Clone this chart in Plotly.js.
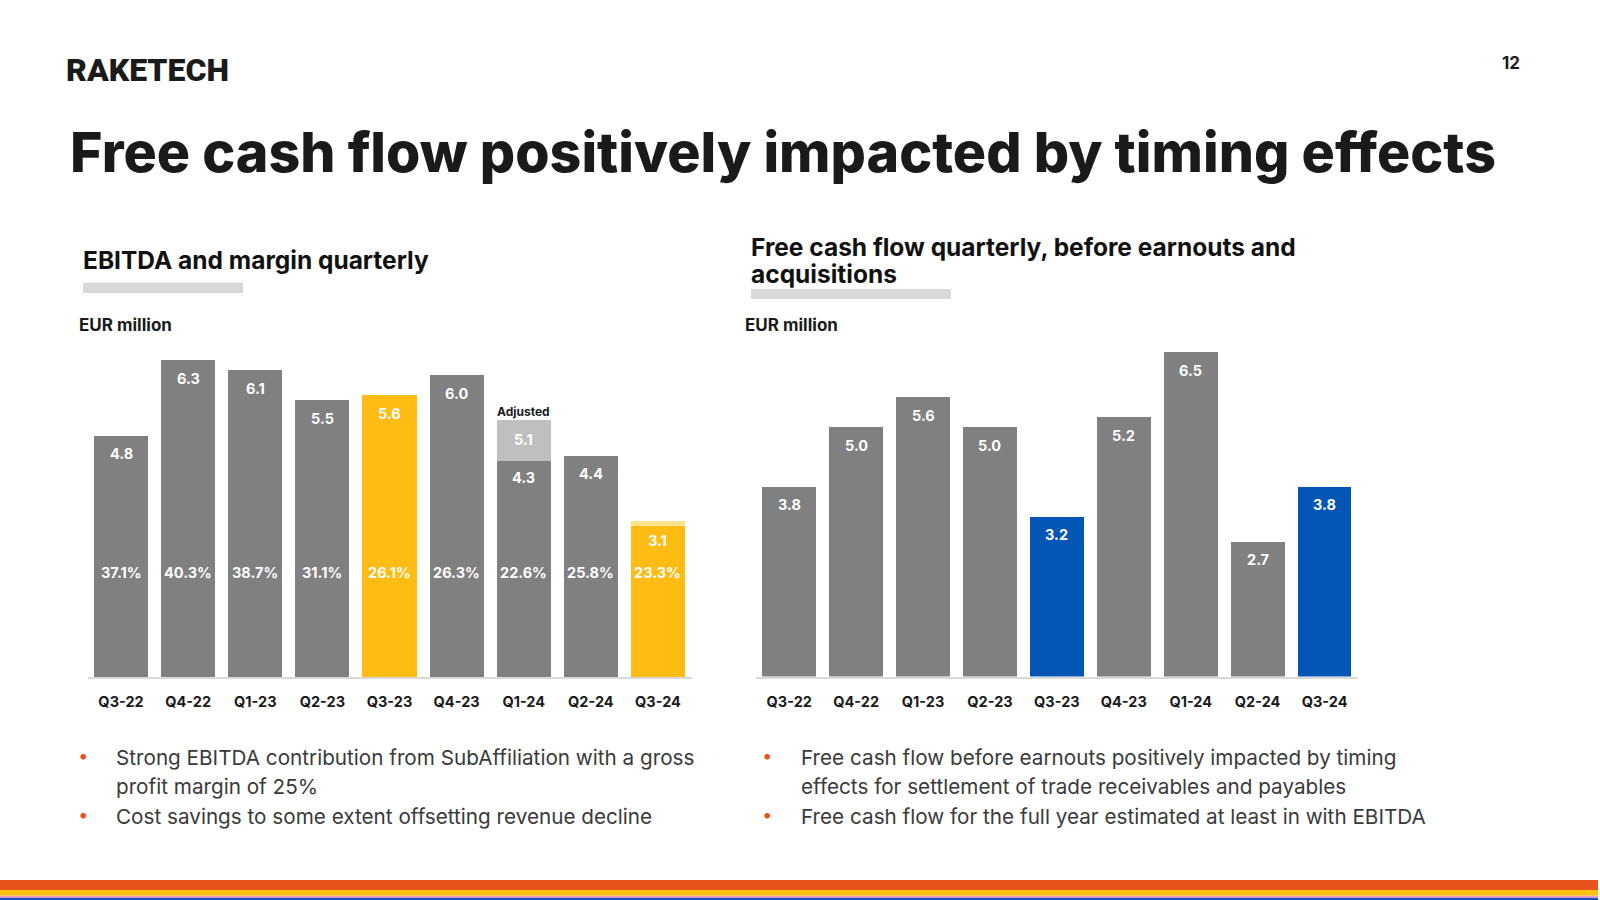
<!DOCTYPE html>
<html>
<head>
<meta charset="utf-8">
<script src="https://cdn.plot.ly/plotly-3.0.1.min.js"></script>
<style>html,body{margin:0;padding:0;background:#fff;}#chart{width:1600px;height:900px;}</style>
</head>
<body>
<div id="chart"></div>
<script>
// ---- data ----
const categories = ['Q3-22','Q4-22','Q1-23','Q2-23','Q3-23','Q4-23','Q1-24','Q2-24','Q3-24'];
const ebitda = [4.8, 6.3, 6.1, 5.5, 5.6, 6.0, 4.3, 4.4, 3.0];
const ebitdaAdjusted = [null, null, null, null, null, null, 5.1, null, 3.1];
const ebitdaMargin = [37.1, 40.3, 38.7, 31.1, 26.1, 26.3, 22.6, 25.8, 23.3];
const freeCashFlow = [3.8, 5.0, 5.6, 5.0, 3.2, 5.2, 6.5, 2.7, 3.8];
const highlighted = ['Q3-23', 'Q3-24'];

const pageTitle = 'Free cash flow positively impacted by timing effects';
const leftTitle = 'EBITDA and margin quarterly';
const rightTitleLines = ['Free cash flow quarterly, before earnouts and', 'acquisitions'];
const unitLabel = 'EUR million';
const leftBullets = [['Strong EBITDA contribution from SubAffiliation with a gross', 'profit margin of 25%'], ['Cost savings to some extent offsetting revenue decline']];
const rightBullets = [['Free cash flow before earnouts positively impacted by timing', 'effects for settlement of trade receivables and payables'], ['Free cash flow for the full year estimated at least in with EBITDA']];

// ---- style ----
const GRAY = '#808080', YELLOW = '#FFBC14', LYELLOW = '#FFE38F', LGRAY = '#BFBFBF', BLUE = '#0356B5';
const FONT = 'Inter, "Open Sans", sans-serif';
const W = 1600, H = 900;
const px = v => v / W;
const py = v => 1 - v / H;

const isHi = categories.map(c => highlighted.includes(c));
const adjPart = ebitda.map((b, i) => ebitdaAdjusted[i] == null ? 0 : Math.round((ebitdaAdjusted[i] - b) * 10) / 10);

const traces = [
  { type: 'bar', x: categories, y: ebitda, xaxis: 'x', yaxis: 'y',
    marker: { color: isHi.map(h => h ? YELLOW : GRAY) }, hoverinfo: 'x+y' },
  { type: 'bar', x: categories, y: adjPart, xaxis: 'x', yaxis: 'y',
    marker: { color: isHi.map(h => h ? LYELLOW : LGRAY) }, hoverinfo: 'x+y' },
  { type: 'bar', x: categories, y: freeCashFlow, xaxis: 'x2', yaxis: 'y2',
    marker: { color: isHi.map(h => h ? BLUE : GRAY) }, hoverinfo: 'x+y' }
];

const ann = [];
const white = { family: FONT, size: 14.5, color: '#ffffff', weight: 700 };
categories.forEach((c, i) => {
  const adj = ebitdaAdjusted[i];
  if (adj != null) {
    ann.push({ xref: 'x', yref: 'y', x: c, y: adj, yshift: -19, text: adj.toFixed(1), showarrow: false, font: white, yanchor: 'middle' });
    if (adj - ebitda[i] >= 0.5) {
      ann.push({ xref: 'x', yref: 'y', x: c, y: ebitda[i], yshift: -17, text: ebitda[i].toFixed(1), showarrow: false, font: white, yanchor: 'middle' });
      ann.push({ xref: 'x', yref: 'y', x: c, y: adj, yshift: 9, text: 'Adjusted', showarrow: false,
        font: { family: FONT, size: 12, color: '#1a1a1a', weight: 700 }, yanchor: 'middle' });
    }
  } else {
    ann.push({ xref: 'x', yref: 'y', x: c, y: ebitda[i], yshift: -18, text: ebitda[i].toFixed(1), showarrow: false, font: white, yanchor: 'middle' });
  }
  ann.push({ xref: 'x', yref: 'y', x: c, y: 2.08, text: ebitdaMargin[i].toFixed(1) + '%', showarrow: false, font: white, yanchor: 'middle' });
  ann.push({ xref: 'x2', yref: 'y2', x: c, y: freeCashFlow[i], yshift: -18, text: freeCashFlow[i].toFixed(1), showarrow: false, font: white, yanchor: 'middle' });
});

function textAt(x, y, text, font, anchor) {
  ann.push({ xref: 'paper', yref: 'paper', x: px(x), y: py(y), text: text, showarrow: false,
    xanchor: anchor || 'left', yanchor: 'middle', font: font });
}
textAt(64, 70, 'RAKETECH', { family: 'Roboto, sans-serif', size: 32, color: '#1a1a1a', weight: 900 });
textAt(1511, 63, '12', { family: FONT, size: 17, color: '#1a1a1a', weight: 700 }, 'center');
textAt(68, 151, pageTitle, { family: FONT, size: 55.5, color: '#1a1a1a', weight: 800 });
textAt(81, 260, leftTitle, { family: FONT, size: 24.5, color: '#111111', weight: 700 });
textAt(749, 247, rightTitleLines[0], { family: FONT, size: 24.5, color: '#111111', weight: 700 });
textAt(749, 274.5, rightTitleLines[1], { family: FONT, size: 24.5, color: '#111111', weight: 700 });
textAt(77, 325, unitLabel, { family: FONT, size: 17, color: '#1a1a1a', weight: 700 });
textAt(743, 325, unitLabel, { family: FONT, size: 17, color: '#1a1a1a', weight: 700 });

const bulletFont = { family: FONT, size: 20.7, color: '#3a3a3a', weight: 400 };
const dotFont = { family: FONT, size: 18, color: '#E8521C', weight: 700 };
const lineYs = [757, 786, 816];
function bullets(list, dotX, textX) {
  let k = 0;
  list.forEach(lines => {
    textAt(dotX, lineYs[k] - 2, '•', dotFont, 'center');
    lines.forEach(l => { textAt(textX, lineYs[k], l, bulletFont); k++; });
  });
}
bullets(leftBullets, 83, 114);
bullets(rightBullets, 767, 799);

const shapes = [
  { type: 'rect', xref: 'paper', yref: 'paper', x0: px(83), x1: px(243), y0: py(293), y1: py(282.5), fillcolor: '#D9D9D9', line: { width: 0 } },
  { type: 'rect', xref: 'paper', yref: 'paper', x0: px(751), x1: px(951), y0: py(299), y1: py(289), fillcolor: '#D9D9D9', line: { width: 0 } },
  { type: 'rect', xref: 'paper', yref: 'paper', x0: 0, x1: px(1598), y0: py(890), y1: py(880), fillcolor: '#E8521B', line: { width: 0 } },
  { type: 'rect', xref: 'paper', yref: 'paper', x0: 0, x1: px(1598), y0: py(895.7), y1: py(890), fillcolor: '#FFC20E', line: { width: 0 } },
  { type: 'rect', xref: 'paper', yref: 'paper', x0: 0, x1: px(1598), y0: py(897.8), y1: py(895.7), fillcolor: '#F49AC1', line: { width: 0 } },
  { type: 'rect', xref: 'paper', yref: 'paper', x0: 0, x1: px(1598), y0: 0, y1: py(897.8), fillcolor: '#1E4FBF', line: { width: 0 } }
];

const xax = (dom) => ({ domain: dom, range: [-0.5, 8.5], showline: true, linecolor: '#D9D9D9', linewidth: 2,
  showgrid: false, zeroline: false, ticks: '', ticklabelstandoff: 11, fixedrange: true,
  tickfont: { family: FONT, size: 14.5, color: '#1a1a1a', weight: 700 } });
const yax = (dom) => ({ domain: dom, range: [0, 7], visible: false, showgrid: false, zeroline: false, fixedrange: true });

const layout = {
  width: W, height: H, margin: { l: 0, r: 0, t: 0, b: 0 },
  paper_bgcolor: '#ffffff', plot_bgcolor: '#ffffff', showlegend: false,
  barmode: 'stack', bargap: 0.195,
  xaxis: xax([px(87.5), px(691.5)]),
  yaxis: yax([py(677), py(677 - 7 * 50.3)]),
  xaxis2: Object.assign(xax([px(755.8), px(1358)]), { anchor: 'y2' }),
  yaxis2: Object.assign(yax([py(676.5), py(676.5 - 7 * 49.9)]), { anchor: 'x2' }),
  annotations: ann, shapes: shapes
};
layout.xaxis.anchor = 'y';
layout.yaxis.anchor = 'x';

Plotly.newPlot('chart', traces, layout, { displayModeBar: false, staticPlot: true });
</script>
</body>
</html>
